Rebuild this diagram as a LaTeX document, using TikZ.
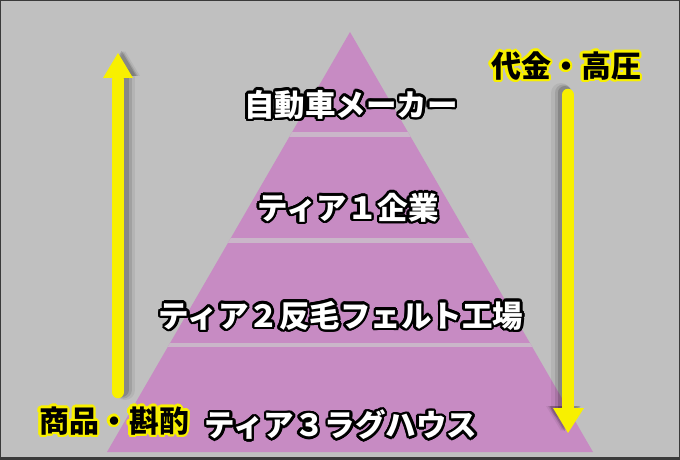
\documentclass[tikz,border=0pt]{standalone}
\usepackage{fontspec}
\newfontfamily\jp{Noto Sans CJK JP}
\usepackage{contour}
\contournumber{20}
\definecolor{bg}{HTML}{C0C0C0}
\definecolor{pyr}{HTML}{C78BC3}
\definecolor{gap}{HTML}{CAB6C9}
\definecolor{ylw}{HTML}{F8F000}
\definecolor{frm}{HTML}{3A3A3A}
\tikzset{
  tier/.style={text=white, font=\jp\bfseries\fontsize{30.5}{32}\selectfont, inner sep=0pt},
  side/.style={text=black, font=\jp\bfseries\fontsize{30}{32}\selectfont, inner sep=0pt},
  shaft/.style={draw=ylw, line width=12.5pt, line cap=round},
  head/.style={fill=ylw, draw=none},
  shade/.style={draw=black, line cap=round, opacity=#1},
}
\newcommand{\wtext}[1]{\contourlength{2.5pt}\contour{black}{#1}}
\newcommand{\ytext}[1]{\contourlength{2.3pt}\contour{ylw}{#1}}
\begin{document}
\begin{tikzpicture}[x=1pt,y=-1pt]
\useasboundingbox (0,0) rectangle (680,460);
\fill[bg] (0,0) rectangle (680,460);
% pyramid
\coordinate (apex) at (350,32);
\coordinate (bl) at (107,452);
\coordinate (br) at (593,452);
\fill[pyr] (apex) -- (br) -- (bl) -- cycle;
\begin{scope}
  \clip (apex) -- (br) -- (bl) -- cycle;
  \fill[gap] (0,132) rectangle (680,137);
  \fill[gap] (0,238) rectangle (680,243);
  \fill[gap] (0,343) rectangle (680,347);
\end{scope}
% left arrow (up), shadow to the right
\coordinate (lb) at (118,392);
\coordinate (lt) at (118,80);
\coordinate (lh) at (118,53);
\foreach \o/\w/\a in {7/20/0.06,5/17/0.10,3.5/14/0.16}{
  \draw[shade=\a, line width=\w pt] ([xshift=\o pt,yshift=2pt]lb) -- ([xshift=\o pt,yshift=2pt]lt);
  \fill[black, opacity=\a] ([xshift=\o pt,yshift=2pt]103,78) -- ([xshift=\o pt,yshift=2pt]133,78) -- ([xshift=\o pt,yshift=2pt]118,53) -- cycle;
}
\draw[shaft] (lb) -- (lt);
\fill[head] (103,78) -- (133,78) -- (lh) -- cycle;
% right arrow (down), shadow to the left
\coordinate (rt) at (568,95);
\coordinate (rb) at (568,410);
\coordinate (rh) at (568,433);
\foreach \o/\w/\a in {7/20/0.06,5/17/0.10,3.5/14/0.16}{
  \draw[shade=\a, line width=\w pt] ([xshift=-\o pt,yshift=2pt]rt) -- ([xshift=-\o pt,yshift=2pt]rb);
  \fill[black, opacity=\a] ([xshift=-\o pt,yshift=2pt]553,408) -- ([xshift=-\o pt,yshift=2pt]584,408) -- ([xshift=-\o pt,yshift=2pt]568,433) -- cycle;
}
\draw[shaft] (rt) -- (rb);
\fill[head] (553,408) -- (584,408) -- (rh) -- cycle;
% tier labels
\node[tier] (t0) at (351,106) {\wtext{自動車メーカー}};
\node[tier] (t1) at (348,209) {\wtext{ティア１企業}};
\node[tier] (t2) at (341,317) {\wtext{ティア２反毛フェルト工場}};
\node[tier] (t3) at (341,426) {\wtext{ティア３ラグハウス}};
% side labels
\node[side] (goods) at (114,422) {\ytext{商品・斟酌}};
\node[side] (money) at (566,67) {\ytext{代金・高圧}};
% frame
\draw[frm, line width=1pt] (0.5,0.5) rectangle (679.5,459);
\draw[frm, line width=3pt] (0,458.5) -- (680,458.5);
\end{tikzpicture}
\end{document}
